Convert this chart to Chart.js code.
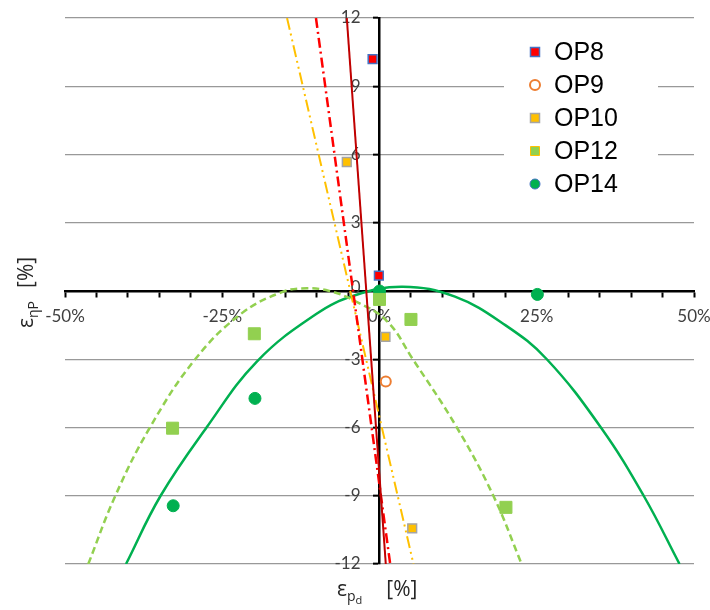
<!DOCTYPE html>
<html>
<head>
<meta charset="utf-8">
<script src="https://cdn.jsdelivr.net/npm/chart.js@4.4.1/dist/chart.umd.min.js"></script>
<style>
  html, body { margin: 0; padding: 0; background: #fff; }
  #wrap { width: 710px; height: 610px; }
</style>
</head>
<body>
<div id="wrap"><canvas id="chart" width="710" height="610"></canvas></div>
<script>
// Измеренные точки (x, y в %)
const op8X = [-1.1, -0.1];
const op8Y = [10.19, 0.68];
const op9X = [1.0];
const op9Y = [-3.98];
const op10X = [-5.2, 0.95, 5.2];
const op10Y = [5.67, -2.02, -10.43];
const op12X = [-32.9, -19.9, 0, 5.0, 20.1];
const op12Y = [-6.03, -1.88, -0.37, -1.25, -9.51];
const op14X = [-32.8, -19.8, 0, 25.1];
const op14Y = [-9.44, -4.72, 0, -0.15];

// Линии тренда
const op8LineX = [-5.2, 1.0];
const op8LineY = [12, -12];
const op9LineX = [-10.1, 1.7];
const op9LineY = [12, -12];
const op10LineX = [-14.7, 5.4];
const op10LineY = [12, -12];
const op12CurveX = [-46.3, -42.0, -36.5, -29.3, -22, -15.5, -11.5, -8, -4.2, 1.1, 5.3, 12.3, 18.1, 22.6];
const op12CurveY = [-12, -9, -6, -3, -1, -0.05, 0.12, 0.0, -0.4, -1.3, -3, -6, -9, -12];
const op14CurveX = [-40.3, -34.8, -27.5, -19.5, -10, -4, 3.7, 12, 20, 26.6, 35.2, 42, 47.7];
const op14CurveY = [-12, -9, -6, -3.1, -1.0, -0.2, 0.19, -0.25, -1.5, -3, -6, -9, -12];

// Деления осей
const xTicksMin = -50, xTicksMax = 50, xStep = 5, xLabelStep = 25;
const yTicksMin = -12, yTicksMax = 12, yStep = 3;

const toPoints = (xs, ys) => xs.map((x, i) => ({x: x, y: ys[i]}));

//Маркеры точек
function markerSet(label, xs, ys, style, radius, fill, border, legendBorder, borderWidth) {
  return {
    label: label,
    data: toPoints(xs, ys),
    showLine: false,
    pointStyle: style,
    pointRadius: radius,
    pointHoverRadius: radius,
    pointBackgroundColor: fill,
    pointBorderColor: border,
    pointBorderWidth: borderWidth,
    inLegend: true,
    legendBorder: legendBorder,
    order: 1
  };
}

//Линии без маркеров
function lineSet(xs, ys, color, width, dash, smooth) {
  return {
    data: toPoints(xs, ys),
    showLine: true,
    pointRadius: 0,
    borderColor: color,
    borderWidth: width,
    borderDash: dash,
    tension: smooth ? 0.4 : 0,
    order: 2
  };
}

const datasets = [
  markerSet('OP8', op8X, op8Y, 'rect', 6.2, '#ff0000', '#4472c4', '#4472c4', 1.5),
  markerSet('OP9', op9X, op9Y, 'circle', 5, '#ffffff', '#ed7d31', '#ed7d31', 2),
  markerSet('OP10', op10X, op10Y, 'rect', 6.2, '#ffc000', '#a5a5a5', '#a5a5a5', 1.5),
  markerSet('OP12', op12X, op12Y, 'rect', 8.5, '#92d050', '#92d050', '#ffc000', 1),
  markerSet('OP14', op14X, op14Y, 'circle', 6, '#00b050', '#00b050', '#4472c4', 1),
  lineSet(op8LineX, op8LineY, '#c00000', 2, [], false),
  lineSet(op9LineX, op9LineY, '#ff0000', 2.5, [10, 4, 2, 4], false),
  lineSet(op10LineX, op10LineY, '#ffc000', 2, [12, 4, 2, 4, 2, 4], false),
  lineSet(op12CurveX, op12CurveY, '#92d050', 2.5, [7, 4], true),
  lineSet(op14CurveX, op14CurveY, '#00b050', 2.5, [], true)
];

//Подписи оси Y слева от вертикальной оси
const yLabels = {
  id: 'yLabels',
  beforeDatasetsDraw(chart) {
    const ctx = chart.ctx;
    const ys = chart.scales.y;
    const x0 = chart.scales.x.getPixelForValue(0);
    ctx.save();
    ctx.fillStyle = '#404040';
    ctx.font = '17px Lato';
    ctx.textAlign = 'right';
    ctx.textBaseline = 'middle';
    ys.ticks.forEach(t => {
      ctx.fillText(String(t.value), x0 - 19, ys.getPixelForValue(t.value) - (t.value === 0 ? 3 : 0));
    });
    ctx.restore();
  }
};

//Легенда в правом верхнем углу с белым фоном
const legendBox = {
  id: 'legendBox',
  afterDatasetsDraw(chart) {
    const ctx = chart.ctx;
    ctx.save();
    ctx.fillStyle = '#ffffff';
    ctx.fillRect(504, 29, 154, 168);
    const items = chart.data.datasets.filter(d => d.inLegend);
    items.forEach((ds, i) => {
      const cx = 535;
      const cy = 52 + i * 33;
      ctx.fillStyle = ds.pointBackgroundColor;
      ctx.strokeStyle = ds.legendBorder;
      ctx.lineWidth = ds.pointBorderWidth;
      ctx.beginPath();
      if (ds.pointStyle === 'rect') {
        const s = 4.5;
        ctx.rect(cx - s, cy - s, 2 * s, 2 * s);
      } else {
        ctx.arc(cx, cy, 5, 0, Math.PI * 2);
      }
      ctx.fill();
      ctx.stroke();
      ctx.fillStyle = '#000000';
      ctx.font = '25px "Liberation Sans"';
      ctx.textBaseline = 'middle';
      ctx.textAlign = 'left';
      ctx.fillText(ds.label, 554, cy + 1);
    });
    ctx.restore();
  }
};

//Подписи осей с индексами
function drawParts(ctx, parts) {
  let x = 0;
  parts.forEach(p => {
    x += p.gap || 0;
    ctx.font = p.size + 'px "Open Sans"';
    ctx.fillText(p.text, x, p.dy || 0);
    x += ctx.measureText(p.text).width;
  });
}

const axisTitles = {
  id: 'axisTitles',
  afterDraw(chart) {
    const ctx = chart.ctx;
    ctx.save();
    ctx.fillStyle = '#262626';
    ctx.textBaseline = 'alphabetic';
    ctx.textAlign = 'left';

    ctx.save();
    ctx.translate(337, 596);
    drawParts(ctx, [
      {text: 'ε', size: 21},
      {text: 'p', size: 14, dy: 5},
      {text: 'd', size: 11, dy: 8},
      {text: '[%]', size: 21, gap: 24}
    ]);
    ctx.restore();

    ctx.save();
    ctx.translate(33, 328);
    ctx.rotate(-Math.PI / 2);
    drawParts(ctx, [
      {text: 'ε', size: 21},
      {text: 'ηP', size: 14, dy: 5},
      {text: '[%]', size: 21, gap: 13}
    ]);
    ctx.restore();

    ctx.restore();
  }
};

const tickFont = {family: 'Lato', size: 17};

new Chart(document.getElementById('chart'), {
  type: 'scatter',
  data: {datasets: datasets},
  options: {
    responsive: false,
    animation: false,
    devicePixelRatio: 1,
    layout: {padding: {left: 65, right: 16, top: 18, bottom: 46}},
    plugins: {
      legend: {display: false},
      tooltip: {enabled: false}
    },
    scales: {
      x: {
        type: 'linear',
        min: xTicksMin,
        max: xTicksMax,
        position: {y: 0},
        afterFit: s => {
          s.paddingLeft = 0;
          s.paddingRight = 0;
        },
        ticks: {
          stepSize: xStep,
          autoSkip: false,
          maxRotation: 0,
          padding: 10,
          color: '#404040',
          font: tickFont,
          callback: v => (v % xLabelStep === 0 ? v + '%' : '')
        },
        grid: {drawOnChartArea: false, drawTicks: true, tickLength: 5, tickColor: '#000000', tickWidth: 2},
        border: {color: '#000000', width: 2.5}
      },
      y: {
        type: 'linear',
        min: yTicksMin,
        max: yTicksMax,
        position: {x: 0},
        ticks: {
          stepSize: yStep,
          display: false
        },
        grid: {
          color: c => (c.tick && c.tick.value === 0 ? 'rgba(0,0,0,0)' : '#999999'),
          lineWidth: 1.3,
          tickLength: 5,
          tickColor: '#000000',
          tickWidth: 2
        },
        border: {color: '#000000', width: 2.5}
      }
    }
  },
  plugins: [yLabels, legendBox, axisTitles]
});
</script>
</body>
</html>
